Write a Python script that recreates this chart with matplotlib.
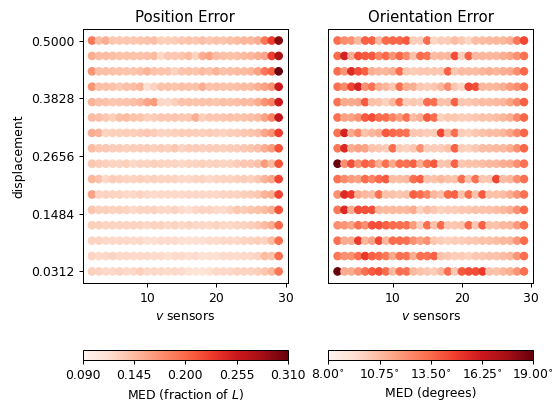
import numpy as np
import matplotlib
matplotlib.use("Agg")
import matplotlib.pyplot as plt

# number of sensors along v, and displacement per row (top row first)
v_sensors = list(range(2, 30))
displacement = [0.5, 0.46875, 0.4375, 0.40625, 0.375, 0.34375, 0.3125, 0.28125,
                0.25, 0.21875, 0.1875, 0.15625, 0.125, 0.09375, 0.0625, 0.03125]

# median position error (fraction of L), one row per displacement
pos_err = [
    [0.191, 0.145, 0.154, 0.136, 0.136, 0.136, 0.136, 0.138, 0.140, 0.142, 0.130, 0.130, 0.132, 0.136, 0.138, 0.136, 0.142, 0.136, 0.140, 0.138, 0.142, 0.145, 0.148, 0.148, 0.154, 0.191, 0.227, 0.296],
    [0.154, 0.145, 0.145, 0.142, 0.140, 0.140, 0.140, 0.140, 0.142, 0.145, 0.123, 0.136, 0.136, 0.138, 0.145, 0.127, 0.154, 0.163, 0.145, 0.142, 0.140, 0.142, 0.145, 0.148, 0.154, 0.160, 0.227, 0.277],
    [0.172, 0.142, 0.142, 0.140, 0.140, 0.138, 0.138, 0.142, 0.151, 0.140, 0.138, 0.138, 0.127, 0.138, 0.140, 0.138, 0.145, 0.140, 0.151, 0.140, 0.142, 0.145, 0.145, 0.148, 0.163, 0.191, 0.205, 0.310],
    [0.172, 0.142, 0.142, 0.140, 0.136, 0.142, 0.142, 0.151, 0.117, 0.127, 0.140, 0.140, 0.138, 0.142, 0.140, 0.140, 0.154, 0.140, 0.142, 0.140, 0.140, 0.142, 0.145, 0.145, 0.154, 0.163, 0.172, 0.255],
    [0.151, 0.142, 0.140, 0.136, 0.138, 0.140, 0.142, 0.148, 0.160, 0.167, 0.123, 0.123, 0.130, 0.140, 0.140, 0.138, 0.140, 0.140, 0.138, 0.142, 0.140, 0.142, 0.145, 0.145, 0.154, 0.172, 0.182, 0.255],
    [0.145, 0.142, 0.136, 0.130, 0.142, 0.145, 0.140, 0.138, 0.130, 0.132, 0.136, 0.136, 0.138, 0.136, 0.136, 0.154, 0.130, 0.136, 0.136, 0.138, 0.140, 0.138, 0.140, 0.142, 0.145, 0.163, 0.182, 0.260],
    [0.154, 0.151, 0.127, 0.130, 0.130, 0.132, 0.130, 0.132, 0.136, 0.132, 0.127, 0.127, 0.130, 0.132, 0.132, 0.130, 0.130, 0.132, 0.130, 0.127, 0.132, 0.132, 0.136, 0.138, 0.142, 0.160, 0.172, 0.227],
    [0.145, 0.136, 0.136, 0.132, 0.132, 0.130, 0.132, 0.132, 0.132, 0.130, 0.132, 0.130, 0.136, 0.127, 0.132, 0.132, 0.130, 0.132, 0.132, 0.130, 0.132, 0.132, 0.136, 0.138, 0.142, 0.154, 0.167, 0.214],
    [0.136, 0.132, 0.130, 0.127, 0.127, 0.130, 0.123, 0.127, 0.127, 0.130, 0.127, 0.127, 0.127, 0.123, 0.127, 0.127, 0.130, 0.127, 0.130, 0.127, 0.127, 0.132, 0.136, 0.136, 0.140, 0.167, 0.145, 0.214],
    [0.148, 0.140, 0.123, 0.132, 0.130, 0.127, 0.127, 0.130, 0.127, 0.130, 0.127, 0.127, 0.127, 0.123, 0.123, 0.127, 0.127, 0.123, 0.127, 0.127, 0.127, 0.130, 0.132, 0.130, 0.136, 0.151, 0.160, 0.222],
    [0.163, 0.127, 0.127, 0.127, 0.127, 0.123, 0.123, 0.127, 0.123, 0.121, 0.123, 0.123, 0.123, 0.121, 0.123, 0.123, 0.123, 0.123, 0.123, 0.127, 0.127, 0.127, 0.130, 0.132, 0.136, 0.151, 0.154, 0.222],
    [0.138, 0.130, 0.130, 0.127, 0.130, 0.127, 0.123, 0.127, 0.127, 0.127, 0.123, 0.123, 0.127, 0.121, 0.117, 0.123, 0.127, 0.127, 0.123, 0.121, 0.127, 0.136, 0.132, 0.138, 0.140, 0.145, 0.154, 0.214],
    [0.130, 0.130, 0.127, 0.127, 0.127, 0.127, 0.127, 0.127, 0.123, 0.127, 0.127, 0.123, 0.127, 0.123, 0.127, 0.123, 0.123, 0.123, 0.127, 0.123, 0.123, 0.127, 0.127, 0.130, 0.136, 0.145, 0.154, 0.200],
    [0.127, 0.127, 0.123, 0.123, 0.123, 0.123, 0.121, 0.123, 0.117, 0.117, 0.121, 0.121, 0.121, 0.117, 0.115, 0.115, 0.117, 0.121, 0.121, 0.123, 0.123, 0.123, 0.127, 0.127, 0.130, 0.127, 0.145, 0.197],
    [0.127, 0.123, 0.123, 0.127, 0.123, 0.123, 0.121, 0.123, 0.123, 0.121, 0.121, 0.117, 0.121, 0.121, 0.117, 0.121, 0.115, 0.117, 0.117, 0.121, 0.121, 0.121, 0.123, 0.123, 0.127, 0.145, 0.140, 0.197],
    [0.130, 0.127, 0.123, 0.123, 0.127, 0.123, 0.123, 0.130, 0.123, 0.123, 0.123, 0.121, 0.123, 0.121, 0.115, 0.112, 0.112, 0.117, 0.123, 0.123, 0.123, 0.127, 0.127, 0.127, 0.130, 0.136, 0.148, 0.191],
]

# median orientation error (degrees), same layout
ori_err = [
    [13.4, 12.3, 12.2, 10.9, 13.8, 13.8, 10.9, 13.4, 13.6, 13.6, 14.0, 10.1, 10.1, 13.4, 9.7, 10.1, 10.1, 10.7, 10.3, 9.7, 10.7, 10.7, 10.8, 10.9, 10.9, 11.2, 13.0, 14.6],
    [13.4, 15.9, 11.2, 14.3, 14.0, 14.0, 12.6, 13.5, 12.0, 13.6, 12.4, 10.5, 13.4, 13.2, 10.7, 10.9, 10.9, 14.4, 10.1, 13.8, 10.9, 10.9, 10.9, 10.9, 11.2, 11.5, 12.2, 13.2],
    [13.4, 12.0, 15.5, 14.4, 13.8, 11.2, 10.9, 10.9, 11.2, 13.4, 10.3, 10.1, 10.3, 10.3, 10.3, 10.3, 13.8, 10.3, 10.7, 10.7, 10.7, 10.9, 11.2, 10.9, 11.2, 11.3, 12.3, 13.5],
    [13.2, 12.4, 14.6, 15.9, 12.2, 13.2, 11.2, 10.9, 10.3, 13.3, 11.2, 11.2, 10.3, 10.1, 10.3, 10.9, 12.4, 10.3, 9.8, 14.6, 14.4, 10.9, 10.8, 10.9, 11.2, 11.8, 12.3, 13.3],
    [13.2, 11.3, 11.3, 11.5, 14.0, 10.5, 10.5, 9.9, 10.8, 13.4, 10.1, 10.3, 10.1, 13.4, 13.3, 10.5, 10.5, 13.8, 10.3, 10.3, 10.5, 10.7, 10.7, 10.8, 10.9, 11.6, 12.4, 13.8],
    [13.3, 11.6, 11.6, 12.2, 14.0, 14.4, 13.4, 13.4, 12.6, 11.8, 13.3, 10.7, 11.2, 14.0, 13.4, 9.9, 10.3, 10.3, 10.1, 10.1, 10.3, 10.5, 10.5, 10.7, 10.9, 11.2, 12.4, 13.6],
    [13.2, 15.9, 11.3, 12.4, 10.5, 10.9, 11.2, 14.0, 13.5, 13.3, 13.3, 10.3, 10.3, 10.1, 10.1, 14.6, 10.9, 13.4, 10.1, 9.9, 10.3, 10.5, 10.7, 10.7, 10.9, 11.5, 12.4, 13.6],
    [13.0, 15.6, 11.2, 11.6, 11.6, 10.5, 10.3, 10.1, 13.4, 10.1, 9.9, 10.3, 12.2, 10.1, 10.1, 10.1, 10.5, 13.8, 10.1, 9.9, 10.3, 10.7, 10.7, 10.8, 10.8, 11.2, 12.2, 13.6],
    [19.0, 12.2, 14.4, 12.2, 13.8, 13.3, 11.2, 13.3, 11.3, 13.4, 13.2, 13.8, 11.3, 13.3, 14.0, 10.3, 10.5, 13.8, 10.3, 10.5, 10.5, 10.7, 10.8, 10.9, 11.2, 11.3, 12.2, 13.2],
    [13.2, 12.4, 11.8, 11.6, 13.4, 12.6, 13.5, 14.0, 10.7, 10.7, 10.8, 13.4, 13.8, 10.5, 10.5, 10.9, 10.5, 10.5, 13.4, 10.5, 13.3, 10.3, 10.3, 14.6, 10.7, 10.9, 12.2, 13.3],
    [12.2, 15.5, 15.0, 11.2, 10.8, 10.7, 13.3, 10.5, 10.5, 10.3, 10.5, 13.8, 13.4, 12.6, 10.9, 10.5, 13.5, 13.8, 10.5, 13.4, 10.5, 14.0, 10.5, 10.5, 10.7, 11.2, 12.0, 13.2],
    [13.0, 15.6, 11.3, 14.4, 14.3, 14.3, 10.9, 10.8, 10.8, 10.8, 10.8, 11.3, 9.9, 10.7, 10.3, 9.9, 10.1, 10.1, 10.3, 10.3, 10.5, 10.5, 10.5, 10.7, 10.8, 11.2, 12.2, 13.5],
    [12.2, 12.0, 11.6, 13.3, 12.2, 14.3, 14.3, 13.8, 13.4, 13.3, 13.2, 11.8, 10.1, 13.4, 10.5, 13.5, 10.3, 10.3, 10.5, 13.5, 10.3, 13.8, 10.5, 10.5, 10.8, 10.9, 11.8, 13.4],
    [13.3, 11.3, 11.3, 15.0, 10.9, 11.6, 14.6, 10.9, 13.4, 13.4, 13.3, 12.2, 11.6, 12.2, 10.3, 10.1, 9.9, 10.1, 10.1, 10.3, 10.3, 10.5, 10.5, 10.7, 10.8, 10.9, 12.0, 13.4],
    [13.0, 12.2, 12.2, 13.4, 15.0, 13.8, 13.5, 13.0, 11.3, 13.2, 13.2, 11.2, 13.3, 13.3, 13.8, 10.5, 10.3, 10.1, 10.1, 9.9, 10.3, 10.3, 10.5, 10.5, 10.7, 10.9, 12.0, 13.4],
    [19.0, 11.3, 11.3, 12.2, 13.3, 14.0, 14.4, 13.4, 10.8, 13.3, 13.3, 10.8, 10.5, 10.3, 10.1, 10.8, 13.4, 10.3, 14.0, 14.4, 14.4, 15.0, 10.5, 10.5, 10.8, 11.2, 12.0, 13.3],
]

pos_range = (0.09, 0.31)
ori_range = (8.0, 19.0)

xx, yy = np.meshgrid(v_sensors, displacement)

dpi = 89
fig = plt.figure(figsize=(552 / dpi, 401 / dpi), dpi=dpi)
ax1 = fig.add_axes([0.1498, 0.2943, 0.3719, 0.6334])
ax2 = fig.add_axes([0.5947, 0.2943, 0.3714, 0.6334])
cax1 = fig.add_axes([0.1498, 0.1022, 0.3719, 0.0249])
cax2 = fig.add_axes([0.5947, 0.1022, 0.3714, 0.0249])

sc1 = ax1.scatter(xx.ravel(), yy.ravel(), c=np.array(pos_err).ravel(),
                  cmap="Reds", vmin=pos_range[0], vmax=pos_range[1])
sc2 = ax2.scatter(xx.ravel(), yy.ravel(), c=np.array(ori_err).ravel(),
                  cmap="Reds", vmin=ori_range[0], vmax=ori_range[1])

yt = np.linspace(displacement[-1], displacement[0], 5)
ax1.set_yticks(yt)
ax1.set_yticklabels(["%.4f" % t for t in yt])
ax1.set_ylabel("displacement")
ax2.set_yticks([])

for ax, title in [(ax1, "Position Error"), (ax2, "Orientation Error")]:
    ax.set_title(title)
    ax.set_xlabel("$v$ sensors")
    ax.set_xticks([10, 20, 30])

cb1 = fig.colorbar(sc1, cax=cax1, orientation="horizontal",
                   ticks=np.linspace(*pos_range, 5), format="%.3f")
cb1.set_label("MED (fraction of $L$)")
cb2 = fig.colorbar(sc2, cax=cax2, orientation="horizontal",
                   ticks=np.linspace(*ori_range, 5), format=r"%.2f$^{\circ}$")
cb2.set_label("MED (degrees)")

fig.savefig("out.png", dpi=dpi)
